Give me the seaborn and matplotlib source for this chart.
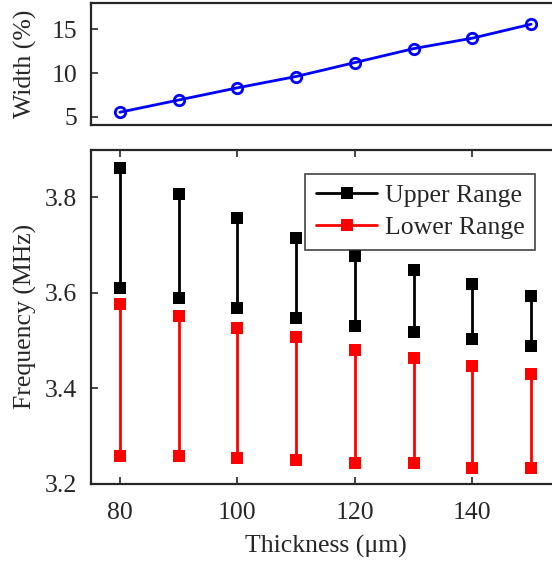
import matplotlib
matplotlib.use("Agg")
import matplotlib.pyplot as plt
from matplotlib.lines import Line2D
import numpy as np
import pandas as pd
import seaborn as sns

# Membrane thickness (um)
thickness = [80, 90, 100, 110, 120, 130, 140, 150]

# Relative bandwidth (%)
width_pct = [5.5, 6.9, 8.3, 9.6, 11.2, 12.8, 14.0, 15.6]

# Frequency ranges (MHz)
upper_top = [3.862, 3.806, 3.756, 3.714, 3.677, 3.647, 3.618, 3.592]
upper_bottom = [3.610, 3.589, 3.568, 3.546, 3.530, 3.517, 3.502, 3.488]
lower_top = [3.576, 3.551, 3.526, 3.506, 3.480, 3.462, 3.447, 3.429]
lower_bottom = [3.257, 3.257, 3.253, 3.250, 3.242, 3.242, 3.233, 3.233]

series_names = ["Upper Range", "Lower Range"]
series_colors = ["#000000", "#ff0000"]

sns.set_theme(style="white")
plt.rcParams["font.family"] = ["Liberation Serif", "DejaVu Serif"]

FS = 18.5
AX_COLOR = "#262626"

fig = plt.figure(figsize=(5.52, 5.62), dpi=100)
W, H = 552.0, 562.0
left = 90.5 / W
width = 470.0 / W
ax_top = fig.add_axes([left, (H - 125.3) / H, width, 122.0 / H])
ax_bot = fig.add_axes([left, (H - 483.5) / H, width, 334.0 / H])

# Width vs thickness
df_w = pd.DataFrame({"thickness": thickness, "width": width_pct})
sns.lineplot(data=df_w, x="thickness", y="width", ax=ax_top, color="#0000ff",
             lw=2.0, marker="o", markersize=7.5, markerfacecolor="none",
             markeredgecolor="#0000ff", markeredgewidth=2.0)

# Frequency ranges: one vertical segment per thickness
rows = []
for name, tops, bots in [("Upper Range", upper_top, upper_bottom),
                         ("Lower Range", lower_top, lower_bottom)]:
    for t, a, b in zip(thickness, tops, bots):
        rows.append({"thickness": t, "freq": a, "series": name})
        rows.append({"thickness": t, "freq": b, "series": name})
df_f = pd.DataFrame(rows)
sns.lineplot(data=df_f, x="thickness", y="freq", hue="series",
             hue_order=series_names, palette=series_colors,
             units="thickness", estimator=None, sort=False, ax=ax_bot,
             lw=2.0, marker="s", markersize=8, markeredgewidth=0,
             legend=False)

for ax in (ax_top, ax_bot):
    ax.set_xlim(75, 155)
    for s in ax.spines.values():
        s.set_visible(True)
        s.set_color(AX_COLOR)
        s.set_linewidth(1.6)
    ax.tick_params(direction="in", length=5, width=1.2, colors=AX_COLOR,
                   labelcolor=AX_COLOR, labelsize=FS, top=True, right=True,
                   bottom=True, left=True)
    ax.tick_params(axis="y", pad=9.5)
    ax.tick_params(axis="x", pad=13)

ax_top.set_ylim(4, 18)
ax_top.set_yticks([5, 10, 15])
ax_top.set_xticks([])
ax_top.set_xlabel("")
ax_top.set_ylabel("Width (%)", fontsize=FS, color=AX_COLOR)
ax_top.yaxis.set_label_coords(-0.114, 0.5)

ax_bot.set_ylim(3.2, 3.9)
ax_bot.set_yticks([3.2, 3.4, 3.6, 3.8])
ax_bot.set_yticklabels(["3.2", "3.4", "3.6", "3.8"])
ax_bot.set_xticks([80, 100, 120, 140])
ax_bot.set_xlabel("Thickness (\u03bcm)", fontsize=FS, color=AX_COLOR,
                  labelpad=8)
ax_bot.set_ylabel("Frequency (MHz)", fontsize=FS, color=AX_COLOR)
ax_bot.yaxis.set_label_coords(-0.114, 0.5)

handles = [Line2D([], [], color=c, lw=2.0, marker="s", markersize=8,
                  markeredgewidth=0) for c in series_colors]
leg = ax_bot.legend(handles, series_names, loc="upper right",
                    bbox_to_anchor=(0.946, 0.927), borderaxespad=0,
                    fontsize=FS, frameon=True, fancybox=False,
                    handlelength=2.4, handletextpad=0.3, labelspacing=0.36,
                    borderpad=0.4)
leg.get_frame().set_edgecolor(AX_COLOR)
leg.get_frame().set_linewidth(1.3)
for t in leg.get_texts():
    t.set_color(AX_COLOR)

fig.savefig("out.png", dpi=100)
